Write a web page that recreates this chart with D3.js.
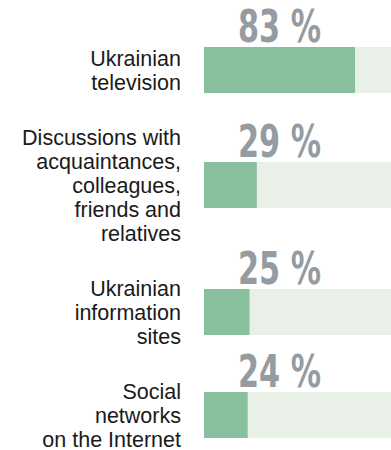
<!DOCTYPE html>
<html>
<head>
<meta charset="utf-8">
<script src="https://cdn.jsdelivr.net/npm/d3@7"></script>
<style>
  html, body { margin: 0; padding: 0; background: #ffffff; }
  svg { display: block; }
</style>
</head>
<body>
<svg id="chart" width="391" height="450"></svg>
<script>
// Sources of information, share of respondents (%)
const categories = [
  ["Ukrainian", "television"],
  ["Discussions with", "acquaintances,", "colleagues,", "friends and", "relatives"],
  ["Ukrainian", "information", "sites"],
  ["Social", "networks", "on the Internet"]
];
const values = [83, 29, 25, 24];
const valueLabels = ["83 %", "29 %", "25 %", "24 %"];

const chartWidth = 391;
const lineHeight = 24;   // label line spacing
const rowGap = 31;       // space between row blocks
const firstTop = 46;     // first row block top
const barHeight = 46;
const labelRight = 181;

const svg = d3.select("#chart");

const x = d3.scaleLinear().domain([0, 100]).range([204, 386]);

// Row block layout: each block is as tall as its label, blocks stacked with a fixed gap
let cursor = firstTop;
const rows = categories.map((lines, i) => {
  const h = lines.length * lineHeight;
  const center = cursor + h / 2;
  cursor += h + rowGap;
  return { lines, value: values[i], label: valueLabels[i], center };
});

const g = svg.selectAll("g.row").data(rows).join("g").attr("class", "row");

// Track behind each bar
g.append("rect")
  .attr("x", x(0))
  .attr("y", d => d.center - barHeight / 2)
  .attr("width", chartWidth - x(0))
  .attr("height", barHeight)
  .attr("fill", "#e8f0e8");

// Value bar
g.append("rect")
  .attr("x", x(0))
  .attr("y", d => d.center - barHeight / 2)
  .attr("width", d => x(d.value) - x(0))
  .attr("height", barHeight)
  .attr("fill", "#88bf9c");

// Percentage above the bar
g.append("text")
  .attr("x", x(0) + 34)
  .attr("y", d => d.center - barHeight / 2 - 5)
  .attr("textLength", 83)
  .attr("lengthAdjust", "spacingAndGlyphs")
  .attr("font-family", "'Liberation Sans Narrow', 'DejaVu Sans Condensed', 'Liberation Sans', sans-serif")
  .attr("font-weight", "bold")
  .attr("font-size", 44)
  .attr("fill", "#959ca1")
  .text(d => d.label);

// Category label, right aligned and centred on the bar
g.append("text")
  .attr("font-family", "'Liberation Sans', Arial, Helvetica, sans-serif")
  .attr("font-size", 21.5)
  .attr("fill", "#1a1a1a")
  .attr("text-anchor", "end")
  .each(function(d) {
    const t = d3.select(this);
    const firstBaseline = d.center - (d.lines.length * lineHeight) / 2 + 19.5;
    d.lines.forEach((line, k) => {
      t.append("tspan")
        .attr("x", labelRight)
        .attr("y", firstBaseline + k * lineHeight)
        .text(line);
    });
  });
</script>
</body>
</html>
